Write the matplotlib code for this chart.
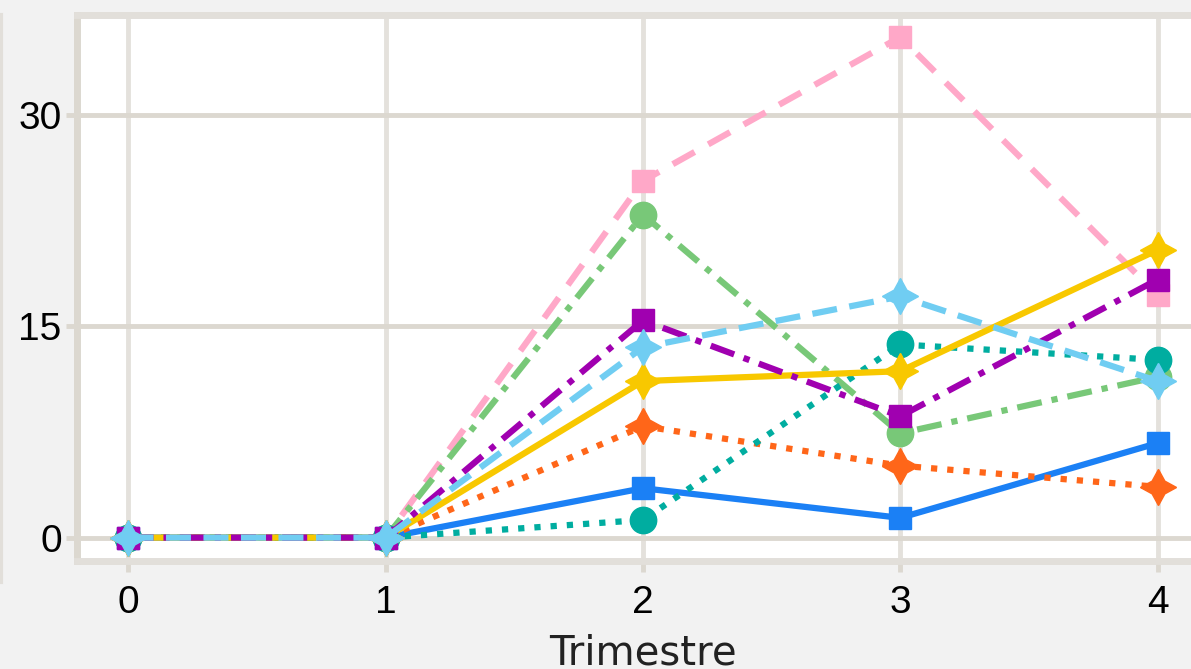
import matplotlib
matplotlib.use("Agg")
import matplotlib.pyplot as plt
from matplotlib.lines import Line2D

# data
trimestres = [0, 1, 2, 3, 4]
pink_vals = [0, 0, 25.3, 35.5, 17.2]
green_vals = [0, 0, 22.9, 7.4, 11.4]
blue_vals = [0, 0, 3.5, 1.4, 6.7]
orange_vals = [0, 0, 7.9, 5.1, 3.6]
teal_vals = [0, 0, 1.25, 13.7, 12.6]
yellow_vals = [0, 0, 11.1, 11.8, 20.4]
purple_vals = [0, 0, 15.4, 8.6, 18.3]
lightblue_vals = [0, 0, 13.5, 17.1, 11.1]
y_ticks = [0, 15, 30]

star4 = (4, 1, 0)
grid_col = "#dcd8d0"
lw = 4.5

# (values, colour, linestyle, marker, markersize)
series = [
    (pink_vals, "#ffa8c8", (0, (4, 2.5)), "s", 16),
    (green_vals, "#78c878", (0, (4, 1.6, 1, 1.6)), "o", 19),
    (blue_vals, "#1b80f5", "-", "s", 16),
    (orange_vals, "#ff6619", (0, (1, 1.6)), star4, 26),
    (teal_vals, "#00ada0", (0, (1, 1.6)), "o", 19),
    (yellow_vals, "#f8c800", "-", star4, 26),
    (purple_vals, "#a000b0", (0, (4, 1.6, 1, 1.6)), "s", 16),
    (lightblue_vals, "#70cdf2", (0, (4, 2)), star4, 26),
]

fig = plt.figure(figsize=(11.91, 6.69), dpi=100, facecolor="#f2f2f2")
ax = fig.add_axes([77/1191, 108/669, 1132/1191, 546/669])
ax.set_facecolor("white")

for vals, col, ls, mk, ms in series:
    ax.plot(trimestres, vals, color=col, linestyle=ls, linewidth=lw,
            marker=mk, markersize=ms, markerfacecolor=col,
            markeredgecolor=col, markeredgewidth=1, dash_capstyle="butt")

ax.set_xlim(-0.2, 4.2)
ax.set_ylim(-1.66, 37.06)
ax.set_xticks(trimestres)
ax.set_yticks(y_ticks)
ax.grid(True, axis="x", color="#e4e1dc", linewidth=3.5)
ax.grid(True, axis="y", color=grid_col, linewidth=3.5)
ax.set_axisbelow(True)
for s in ax.spines.values():
    s.set_color("#e2dfda")
    s.set_linewidth(5)
ax.spines["left"].set_color(grid_col)
ax.tick_params(axis="both", length=8, width=3.5, color=grid_col,
               labelsize=28, labelcolor="black")
ax.tick_params(axis="x", pad=9)
ax.tick_params(axis="y", pad=3)
for lab in ax.get_xticklabels() + ax.get_yticklabels():
    lab.set_fontfamily("Liberation Sans")
ax.set_xlabel("Trimestre", fontsize=29, color="#222222", labelpad=9)

# thin border of the neighbouring panel on the left
fig.add_artist(Line2D([0.001, 0.001], [1 - 15/669, 1 - 582/669],
                      color="#e2dfda", linewidth=3))

fig.savefig("out.png", dpi=100, facecolor=fig.get_facecolor())
